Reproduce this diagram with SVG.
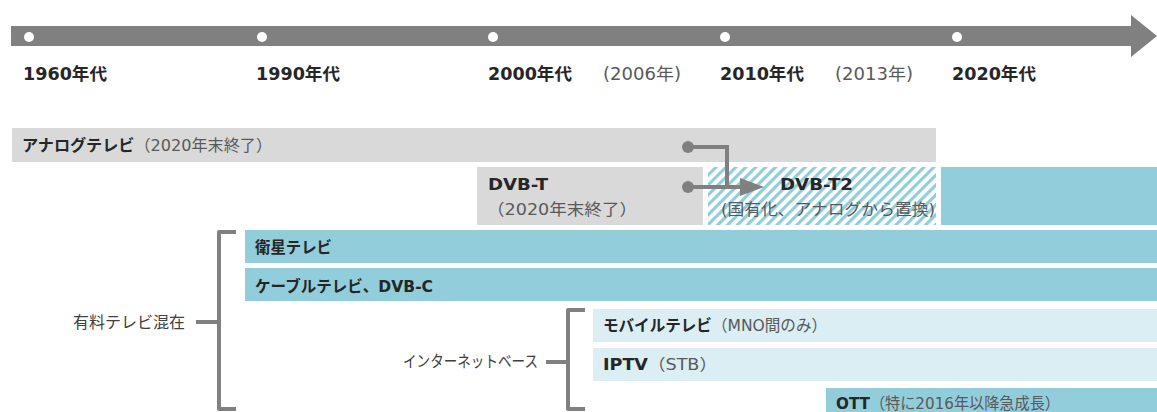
<svg xmlns="http://www.w3.org/2000/svg" width="1157" height="412" viewBox="0 0 1157 412">
<style>
.t{font-family:"DejaVu Sans","Noto Sans CJK JP",sans-serif;font-size:16px;fill:#262626}
.h{font-size:17px}
.b{font-weight:bold}
.n{font-weight:normal;fill:#595959}
.gray{fill:#d9d9d9}
.blue{fill:#92cddc}
.lb{fill:#daeef3}
.br{fill:none;stroke:#808080;stroke-width:4;stroke-linejoin:round}
.dot{fill:#fff}
</style>
<defs>
<pattern id="hatch" width="7" height="7" patternUnits="userSpaceOnUse" patternTransform="rotate(45)">
<rect width="7" height="7" fill="#fff"/>
<rect width="3.2" height="7" fill="#92cddc"/>
</pattern>
</defs>
<g id="timeline">
<polygon points="11,26 1131,26 1131,15 1157,36 1131,57 1131,46 11,46" fill="#808080"/>
<circle class="dot" cx="29" cy="37" r="5"/>
<circle class="dot" cx="262" cy="37" r="5"/>
<circle class="dot" cx="493" cy="37" r="5"/>
<circle class="dot" cx="725" cy="37" r="5"/>
<circle class="dot" cx="957" cy="37" r="5"/>
<text class="t h b" x="23" y="80" textLength="84" lengthAdjust="spacingAndGlyphs">1960年代</text>
<text class="t h b" x="256" y="80" textLength="84" lengthAdjust="spacingAndGlyphs">1990年代</text>
<text class="t h b" x="488" y="80" textLength="84" lengthAdjust="spacingAndGlyphs">2000年代</text>
<text class="t h n" x="603" y="80" textLength="78" lengthAdjust="spacingAndGlyphs">(2006年)</text>
<text class="t h b" x="720" y="80" textLength="84" lengthAdjust="spacingAndGlyphs">2010年代</text>
<text class="t h n" x="835" y="80" textLength="78" lengthAdjust="spacingAndGlyphs">(2013年)</text>
<text class="t h b" x="952" y="80" textLength="84" lengthAdjust="spacingAndGlyphs">2020年代</text>
</g>
<g id="analog">
<rect class="gray" x="12" y="128" width="924" height="34"/>
<text class="t" x="22" y="151" textLength="250" lengthAdjust="spacingAndGlyphs"><tspan class="b">アナログテレビ</tspan><tspan class="n">（2020年末終了）</tspan></text>
</g>
<g id="dvbt">
<rect class="gray" x="477" y="167" width="226" height="58"/>
<text class="t b" x="488" y="190" textLength="60" lengthAdjust="spacingAndGlyphs">DVB-T</text>
<text class="t n" x="487" y="215" textLength="150" lengthAdjust="spacingAndGlyphs">（2020年末終了）</text>
</g>
<g id="dvbt2">
<rect x="708" y="167" width="228" height="58" fill="url(#hatch)"/>
<text class="t b" x="780" y="190" textLength="73" lengthAdjust="spacingAndGlyphs">DVB-T2</text>
<text class="t n" x="721" y="215" textLength="214" lengthAdjust="spacingAndGlyphs">(国有化、アナログから置換)</text>
</g>
<g id="future">
<rect class="blue" x="941" y="167" width="216" height="58"/>
</g>
<g id="satellite">
<rect class="blue" x="245" y="230" width="912" height="33"/>
<text class="t b" x="255" y="253" textLength="77" lengthAdjust="spacingAndGlyphs">衛星テレビ</text>
</g>
<g id="cable">
<rect class="blue" x="245" y="268" width="912" height="33"/>
<text class="t b" x="255" y="292" textLength="178" lengthAdjust="spacingAndGlyphs">ケーブルテレビ、DVB-C</text>
</g>
<g id="mobile">
<rect class="lb" x="593" y="309" width="564" height="33"/>
<text class="t" x="603" y="331" textLength="224" lengthAdjust="spacingAndGlyphs"><tspan class="b">モバイルテレビ</tspan><tspan class="n">（MNO間のみ）</tspan></text>
</g>
<g id="iptv">
<rect class="lb" x="593" y="348" width="564" height="33"/>
<text class="t" x="603" y="370" textLength="114" lengthAdjust="spacingAndGlyphs"><tspan class="b">IPTV</tspan><tspan class="n">（STB）</tspan></text>
</g>
<g id="ott">
<rect class="blue" x="826" y="388" width="331" height="30"/>
<text class="t" x="836" y="409" textLength="224" lengthAdjust="spacingAndGlyphs"><tspan class="b">OTT</tspan><tspan class="n">（特に2016年以降急成長）</tspan></text>
</g>
<g id="paytv">
<text class="t n" x="73" y="328" textLength="112" lengthAdjust="spacingAndGlyphs" style="fill:#404040">有料テレビ混在</text>
</g>
<g id="internet">
<text class="t n" x="403" y="367" textLength="135" lengthAdjust="spacingAndGlyphs" style="fill:#404040">インターネットベース</text>
</g>
<g id="connectors">
<path class="br" d="M236,232 L219,232 L219,409 L236,409 M219,322 L196,322"/>
<path class="br" d="M585,310 L568,310 L568,409 L585,409 M568,362 L546,362"/>
<circle cx="688" cy="147" r="6" fill="#808080"/>
<circle cx="688" cy="187" r="6" fill="#808080"/>
<path d="M688,147 L727,147 L727,187" fill="none" stroke="#808080" stroke-width="4"/>
<path d="M688,187 L744,187" fill="none" stroke="#808080" stroke-width="4"/>
<polygon points="740,178 764,187 740,196" fill="#808080"/>
</g>
</svg>
